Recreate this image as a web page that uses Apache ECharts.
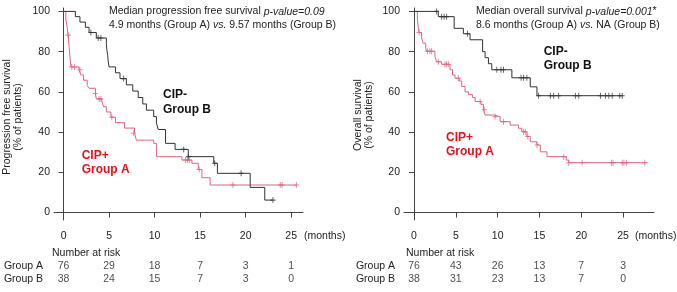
<!DOCTYPE html>
<html>
<head>
<meta charset="utf-8">
<script src="https://cdn.jsdelivr.net/npm/echarts@6/dist/echarts.min.js"></script>
<style>
  html, body { margin: 0; padding: 0; background: #fff; }
  #main { width: 677px; height: 292px; }
</style>
</head>
<body>
<div id="main"></div>
<script>
// tick labels
var months = [0, 5, 10, 15, 20, 25];
var yTicks = [0, 20, 40, 60, 80, 100];
var riskGroups = ['Group A', 'Group B'];

// progression free survival, [month, % surviving] at each step
var pfsA = [[0,100],[0.25,96.1],[0.4,92.1],[0.5,88.2],[0.6,82.9],[0.7,77.6],[0.8,72.4],[1.7,71.0],[1.9,68.4],[2.2,65.8],[2.6,63.1],[2.8,61.8],[3.5,59.2],[3.6,56.5],[4.2,55.2],[4.4,52.6],[4.7,50.0],[5.2,47.4],[5.7,44.7],[6.7,42.0],[7.8,39.4],[8.0,36.0],[9.9,34.4],[10.2,27.8],[13.0,26.1],[14.1,24.5],[14.8,21.4],[15.2,17.3],[16.1,13.7],[25.6,13.7]];
var pfsACensor = [[0.5,88.2],[0.9,72.4],[1.2,72.4],[1.8,71.0],[3.5,59.2],[3.9,56.5],[4.1,56.5],[5.3,47.4],[7.7,39.4],[13.4,26.1],[13.6,26.1],[13.8,26.1],[14.9,21.4],[18.6,13.7],[23.8,13.7],[24.0,13.7],[25.6,13.7]];
var pfsB = [[0,100],[1.3,97.4],[1.8,94.7],[2.4,92.1],[2.8,89.5],[3.6,86.8],[4.7,84.0],[4.75,81.1],[4.85,78.2],[4.9,75.3],[5.0,72.4],[5.7,69.5],[6.2,66.6],[6.9,63.5],[7.6,60.4],[8.2,57.2],[8.7,54.0],[9.1,50.9],[9.9,47.7],[10.2,44.5],[10.4,41.3],[11.2,34.4],[12.25,31.4],[13.7,27.8],[16.5,24.5],[16.9,19.5],[20.5,12.5],[22.1,6.2],[23.0,6.2]];
var pfsBCensor = [[3.0,89.5],[3.8,86.8],[4.1,86.8],[6.6,66.6],[13.2,31.4],[13.7,27.8],[16.6,24.5],[19.5,19.5],[23.0,6.2]];

// overall survival
var osA = [[0,100],[0.4,96.1],[0.5,92.1],[0.6,89.5],[0.9,86.8],[1.1,84.2],[1.4,81.6],[1.5,80.2],[2.5,77.6],[2.7,75.0],[3.3,73.7],[4.3,71.0],[4.6,68.4],[4.9,66.8],[5.4,65.4],[5.7,62.7],[6.1,60.0],[6.5,58.6],[7.0,57.2],[7.3,55.2],[8.0,53.8],[8.3,51.1],[8.5,48.5],[9.5,47.7],[10.3,45.2],[11.5,43.5],[12.5,41.9],[12.9,40.2],[13.5,37.8],[13.9,35.2],[14.7,33.6],[15.1,30.2],[15.9,27.8],[18.2,26.1],[18.5,24.8],[27.9,24.8]];
var osACensor = [[0.6,89.5],[1.6,80.2],[1.9,80.2],[2.1,80.2],[2.9,75.0],[3.7,73.7],[3.9,73.7],[4.1,73.7],[5.3,66.8],[7.9,55.2],[8.4,51.1],[9.7,47.7],[10.7,45.2],[13.1,40.2],[13.3,40.2],[13.6,37.8],[14.7,33.6],[17.9,27.8],[18.5,24.8],[20.1,24.8],[23.6,24.8],[23.8,24.8],[24.9,24.8],[25.1,24.8],[25.4,24.8],[27.6,24.8]];
var osB = [[0,100],[2.9,97.4],[4.8,91.6],[5.9,88.9],[6.7,85.9],[8.2,80.0],[8.5,77.0],[8.9,74.0],[9.3,71.0],[11.7,67.0],[13.9,62.5],[14.7,58.1],[24.9,58.1]];
var osBCensor = [[2.7,100],[3.3,97.4],[3.6,97.4],[3.9,97.4],[6.4,88.9],[9.9,71.0],[10.4,71.0],[10.7,71.0],[12.8,67.0],[13.1,67.0],[13.5,67.0],[14.9,58.1],[16.3,58.1],[16.7,58.1],[17.3,58.1],[19.3,58.1],[19.7,58.1],[22.3,58.1],[22.9,58.1],[23.3,58.1],[23.7,58.1],[24.6,58.1],[24.9,58.1]];

// number at risk
var pfsRiskA = [76, 29, 18, 7, 3, 1];
var pfsRiskB = [38, 24, 15, 7, 3, 0];
var osRiskA = [76, 43, 26, 13, 7, 3];
var osRiskB = [38, 31, 23, 13, 7, 0];

var FONT = 'Liberation Sans, Arial, sans-serif';
var TXT = '#222';
var AXIS = '#444';
var RED_LINE = '#dd6680';
var RED_TXT = '#e3121c';
var BLACK_LINE = '#333';

function mainX(idx, min, max) {
    return {
        gridIndex: idx, type: 'value', min: min, max: max,
        axisLine: { show: true, lineStyle: { color: AXIS, width: 1 } },
        axisTick: { show: true, length: 5, customValues: months, lineStyle: { color: AXIS } },
        axisLabel: { customValues: months, fontSize: 10.5, fontFamily: FONT, color: TXT, margin: 11 },
        splitLine: { show: false }
    };
}
function mainY(idx) {
    return {
        gridIndex: idx, type: 'value', min: -3.7, max: 101.7,
        axisLine: { show: true, lineStyle: { color: AXIS, width: 1 } },
        axisTick: { show: true, length: 5, customValues: yTicks, lineStyle: { color: AXIS } },
        axisLabel: { customValues: yTicks, fontSize: 10.5, fontFamily: FONT, color: TXT, margin: 4 },
        splitLine: { show: false }
    };
}
function riskX(idx, min, max) {
    return { gridIndex: idx, type: 'value', min: min, max: max, show: false };
}
function riskY(idx, margin) {
    return {
        gridIndex: idx, type: 'category', data: riskGroups, inverse: true,
        axisLine: { show: false }, axisTick: { show: false },
        axisLabel: { interval: 0, hideOverlap: false, fontSize: 10.5, fontFamily: FONT, color: TXT, margin: margin }
    };
}
function curve(idx, data, color) {
    return {
        type: 'line', xAxisIndex: idx, yAxisIndex: idx, data: data, step: 'end',
        showSymbol: false, lineStyle: { color: color, width: 1 }, silent: true
    };
}
function censor(idx, data, color) {
    return {
        type: 'scatter', xAxisIndex: idx, yAxisIndex: idx, data: data,
        symbol: 'path://M4,0V8M0,4H8', symbolSize: [5, 6],
        itemStyle: { color: 'rgba(0,0,0,0)', borderColor: color, borderWidth: 1 },
        silent: true
    };
}
function risk(idx, nA, nB) {
    var d = [];
    months.forEach(function (m, i) {
        d.push([m, 'Group A', nA[i]]);
        d.push([m, 'Group B', nB[i]]);
    });
    return {
        type: 'scatter', xAxisIndex: idx, yAxisIndex: idx, data: d,
        symbolSize: 1, itemStyle: { color: 'rgba(0,0,0,0)' }, silent: true,
        label: {
            show: true, position: 'inside', fontSize: 10.5, fontFamily: FONT, color: TXT,
            formatter: function (p) { return String(p.value[2]); }
        }
    };
}
function txt(x, y, s, extra) {
    var style = { text: s, fontSize: 10.5, fontFamily: FONT, fill: TXT };
    for (var k in extra) style[k] = extra[k];
    return { type: 'text', x: x, y: y, style: style, silent: true };
}
function groupLabel(x, y, s, color) {
    return txt(x, y, s, { fontSize: 12, fontWeight: 'bold', fill: color, lineHeight: 14.5 });
}
function axisTitle(x, y, s) {
    return {
        type: 'text', x: x, y: y, rotation: Math.PI / 2, silent: true,
        style: { text: s, fontSize: 10.5, fontFamily: FONT, fill: TXT, lineHeight: 11.5,
                 align: 'center', verticalAlign: 'middle' }
    };
}
var italic = { i: { fontStyle: 'italic', fontSize: 10.5, fontFamily: FONT, fill: TXT } };

var chart = echarts.init(document.getElementById('main'), null, { renderer: 'canvas' });
var option = {
    animation: false,
    grid: [
        { left: 54, top: 8, width: 249, height: 212 },
        { left: 54, top: 259.5, width: 249, height: 26 },
        { left: 404, top: 8, width: 250, height: 212 },
        { left: 404, top: 259.5, width: 250, height: 26 }
    ],
    xAxis: [mainX(0, -1.05, 26.3), riskX(1, -1.05, 26.3), mainX(2, -1.2, 28.7), riskX(3, -1.2, 28.7)],
    yAxis: [mainY(0), riskY(1, 11), mainY(2), riskY(3, 9)],
    series: [
        curve(0, pfsA, RED_LINE), censor(0, pfsACensor, RED_LINE),
        curve(0, pfsB, BLACK_LINE), censor(0, pfsBCensor, BLACK_LINE),
        risk(1, pfsRiskA, pfsRiskB),
        curve(2, osA, RED_LINE), censor(2, osACensor, RED_LINE),
        curve(2, osB, BLACK_LINE), censor(2, osBCensor, BLACK_LINE),
        risk(3, osRiskA, osRiskB)
    ],
    graphic: [
        txt(109, 5, 'Median progression free survival {i|p-value=0.09}\n4.9 months (Group A) {i|vs.} 9.57 months (Group B)', { rich: italic, lineHeight: 13.2 }),
        txt(476, 5, 'Median overall survival {i|p-value=0.001}*\n8.6 months (Group A) {i|vs.} NA (Group B)', { rich: italic, lineHeight: 13.2 }),
        groupLabel(163, 87.5, 'CIP-\nGroup B', '#111'),
        groupLabel(81.7, 148.4, 'CIP+\nGroup A', RED_TXT),
        groupLabel(543.7, 44.2, 'CIP-\nGroup B', '#111'),
        groupLabel(446, 130.3, 'CIP+\nGroup A', RED_TXT),
        axisTitle(12.75, 117, 'Progression free survival\n(% of patients)'),
        axisTitle(363.5, 115, 'Overall survival\n(% of patients)'),
        txt(304, 231, '(months)'),
        txt(635, 231, '(months)'),
        txt(52, 248, 'Number at risk'),
        txt(406, 248, 'Number at risk')
    ]
};
chart.setOption(option);
</script>
</body>
</html>
